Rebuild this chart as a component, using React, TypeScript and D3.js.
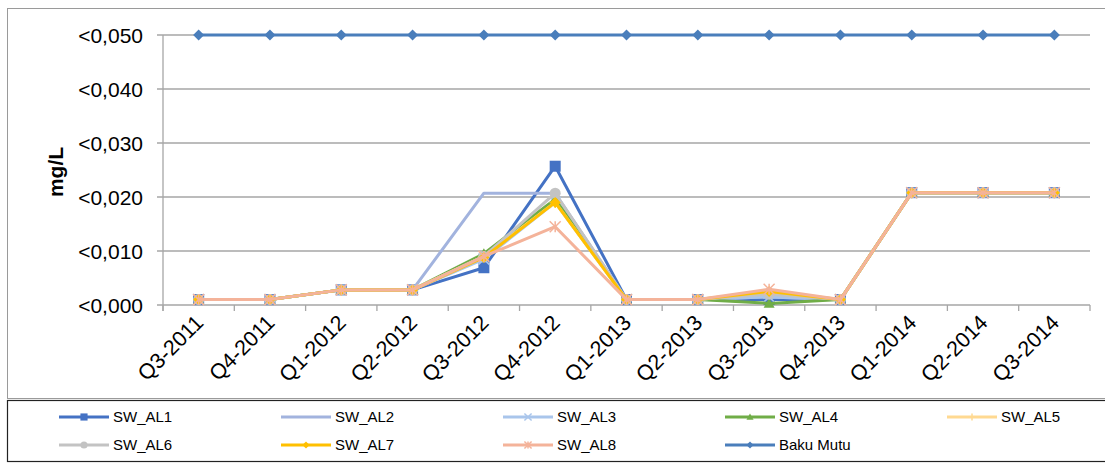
import React from "react";
import * as d3 from "d3";

const categories = ["Q3-2011","Q4-2011","Q1-2012","Q2-2012","Q3-2012","Q4-2012","Q1-2013","Q2-2013","Q3-2013","Q4-2013","Q1-2014","Q2-2014","Q3-2014"];
const yTicks = [0, 0.01, 0.02, 0.03, 0.04, 0.05];
const yTickLabels = ["<0,000","<0,010","<0,020","<0,030","<0,040","<0,050"];

const sw_al1 = [0.001,0.001,0.0028,0.0028,0.0069,0.0257,0.001,0.001,0.001,0.001,0.0208,0.0208,0.0208];
const sw_al2 = [0.001,0.001,0.0028,0.0028,0.0207,0.0207,0.001,0.001,0.0015,0.001,0.0208,0.0208,0.0208];
const sw_al3 = [0.001,0.001,0.0028,0.0028,0.0085,0.019,0.001,0.001,0.0015,0.001,0.0208,0.0208,0.0208];
const sw_al4 = [0.001,0.001,0.0028,0.0028,0.0095,0.0196,0.001,0.001,0.0003,0.001,0.0208,0.0208,0.0208];
const sw_al5 = [0.001,0.001,0.0028,0.0028,0.009,0.019,0.001,0.001,0.0022,0.001,0.0208,0.0208,0.0208];
const sw_al6 = [0.001,0.001,0.0028,0.0028,0.009,0.0207,0.001,0.001,0.002,0.001,0.0208,0.0208,0.0208];
const sw_al7 = [0.001,0.001,0.0028,0.0028,0.0088,0.019,0.001,0.001,0.0025,0.001,0.0208,0.0208,0.0208];
const sw_al8 = [0.001,0.001,0.0028,0.0028,0.009,0.0145,0.001,0.001,0.0029,0.001,0.0208,0.0208,0.0208];
const bakuMutu = [0.05,0.05,0.05,0.05,0.05,0.05,0.05,0.05,0.05,0.05,0.05,0.05,0.05];

type Marker = "square" | "none" | "x" | "triangle" | "plus" | "circle" | "diamond" | "star";
const seriesNames = ["SW_AL1","SW_AL2","SW_AL3","SW_AL4","SW_AL5","SW_AL6","SW_AL7","SW_AL8","Baku Mutu"];
const seriesValues = [sw_al1, sw_al2, sw_al3, sw_al4, sw_al5, sw_al6, sw_al7, sw_al8, bakuMutu];
const seriesColors = ["#4472C4","#A2B3DE","#A9C5EB","#70AD47","#FFD991","#C3C3C3","#FFC000","#F4B39A","#4A7EBB"];
const seriesMarkers: Marker[] = ["square","none","x","triangle","plus","circle","diamond","star","diamond"];

const W = 1105, H = 463;
const plot = { left: 163, right: 1090, top: 35, bottom: 305 };

function MarkerShape({ type, x, y, color, s = 1 }: { type: Marker; x: number; y: number; color: string; s?: number }) {
  const r = 5.5 * s;
  switch (type) {
    case "square":
      return <rect x={x - r} y={y - r} width={2 * r} height={2 * r} fill={color} />;
    case "triangle":
      return <path d={`M${x},${y - r}L${x + r},${y + r * 0.8}L${x - r},${y + r * 0.8}Z`} fill={color} />;
    case "diamond":
      return <path d={`M${x},${y - r}L${x + r},${y}L${x},${y + r}L${x - r},${y}Z`} fill={color} />;
    case "circle":
      return <circle cx={x} cy={y} r={r} fill={color} />;
    case "x":
      return <path d={`M${x - r},${y - r}L${x + r},${y + r}M${x - r},${y + r}L${x + r},${y - r}`} stroke={color} strokeWidth={1.5} />;
    case "plus":
      return <path d={`M${x - r},${y}L${x + r},${y}M${x},${y - r}L${x},${y + r}`} stroke={color} strokeWidth={1.5} />;
    case "star":
      return <path d={`M${x - r},${y - r}L${x + r},${y + r}M${x - r},${y + r}L${x + r},${y - r}M${x},${y - r}L${x},${y + r}`} stroke={color} strokeWidth={1.5} />;
    default:
      return null;
  }
}

export default function App() {
  const x = d3.scaleBand<string>().domain(categories).range([plot.left, plot.right]);
  const y = d3.scaleLinear().domain([0, 0.05]).range([plot.bottom, plot.top]);
  const cx = (c: string) => (x(c) as number) + x.bandwidth() / 2;
  const line = d3.line<number>().x((_, i) => cx(categories[i])).y((d) => y(d));
  const font = "'Liberation Sans', Arial, sans-serif";
  const boundaries = d3.range(categories.length + 1).map((i) => plot.left + i * x.bandwidth());

  const legendCols = [59, 281, 503, 725, 947];
  const legendRows = [417, 445];

  return (
    <svg width={W} height={H} style={{ position: "absolute", left: 0, top: 0 }} fontFamily={font}>
      <rect x={0} y={0} width={W} height={H} fill="#fff" />
      <rect x={7.5} y={8.5} width={1110} height={390} fill="none" stroke="#9a9a9a" strokeWidth={1} />
      {yTicks.map((t, i) => (
        <g key={i}>
          <line x1={plot.left - 6} x2={plot.right} y1={y(t)} y2={y(t)} stroke="#a6a6a6" strokeWidth={1.3} />
          <text x={143} y={y(t)} dy="0.36em" textAnchor="end" fontSize={21} fill="#000">{yTickLabels[i]}</text>
        </g>
      ))}
      <line x1={plot.left} x2={plot.left} y1={plot.top} y2={plot.bottom + 6} stroke="#a6a6a6" strokeWidth={1.3} />
      {boundaries.map((b, i) => (
        <line key={i} x1={b} x2={b} y1={plot.bottom} y2={plot.bottom + 6} stroke="#a6a6a6" strokeWidth={1.3} />
      ))}
      <text transform={`translate(63,172) rotate(-90)`} textAnchor="middle" fontSize={21} fontWeight="bold">mg/L</text>
      {categories.map((c) => (
        <text key={c} transform={`translate(${cx(c) + 6},${plot.bottom + 19}) rotate(-45)`} textAnchor="end" fontSize={21.5} fill="#000">{c}</text>
      ))}
      {seriesValues.map((vals, si) => (
        <g key={si}>
          <path d={line(vals) as string} fill="none" stroke={seriesColors[si]} strokeWidth={3} strokeLinejoin="round" />
          {vals.map((v, i) => (
            <MarkerShape key={i} type={seriesMarkers[si]} x={cx(categories[i])} y={y(v)} color={seriesColors[si]} />
          ))}
        </g>
      ))}
      <rect x={7.5} y={400.5} width={1110} height={61} fill="#fff" stroke="#222" strokeWidth={1.2} />
      {seriesNames.map((n, i) => {
        const lx = legendCols[i % 5];
        const ly = legendRows[Math.floor(i / 5)];
        return (
          <g key={n}>
            <line x1={lx} x2={lx + 50} y1={ly} y2={ly} stroke={seriesColors[i]} strokeWidth={3} />
            <MarkerShape type={seriesMarkers[i]} x={lx + 25} y={ly} color={seriesColors[i]} s={0.65} />
            <text x={lx + 54} y={ly} dy="0.36em" fontSize={15} fill="#000">{n}</text>
          </g>
        );
      })}
    </svg>
  );
}
